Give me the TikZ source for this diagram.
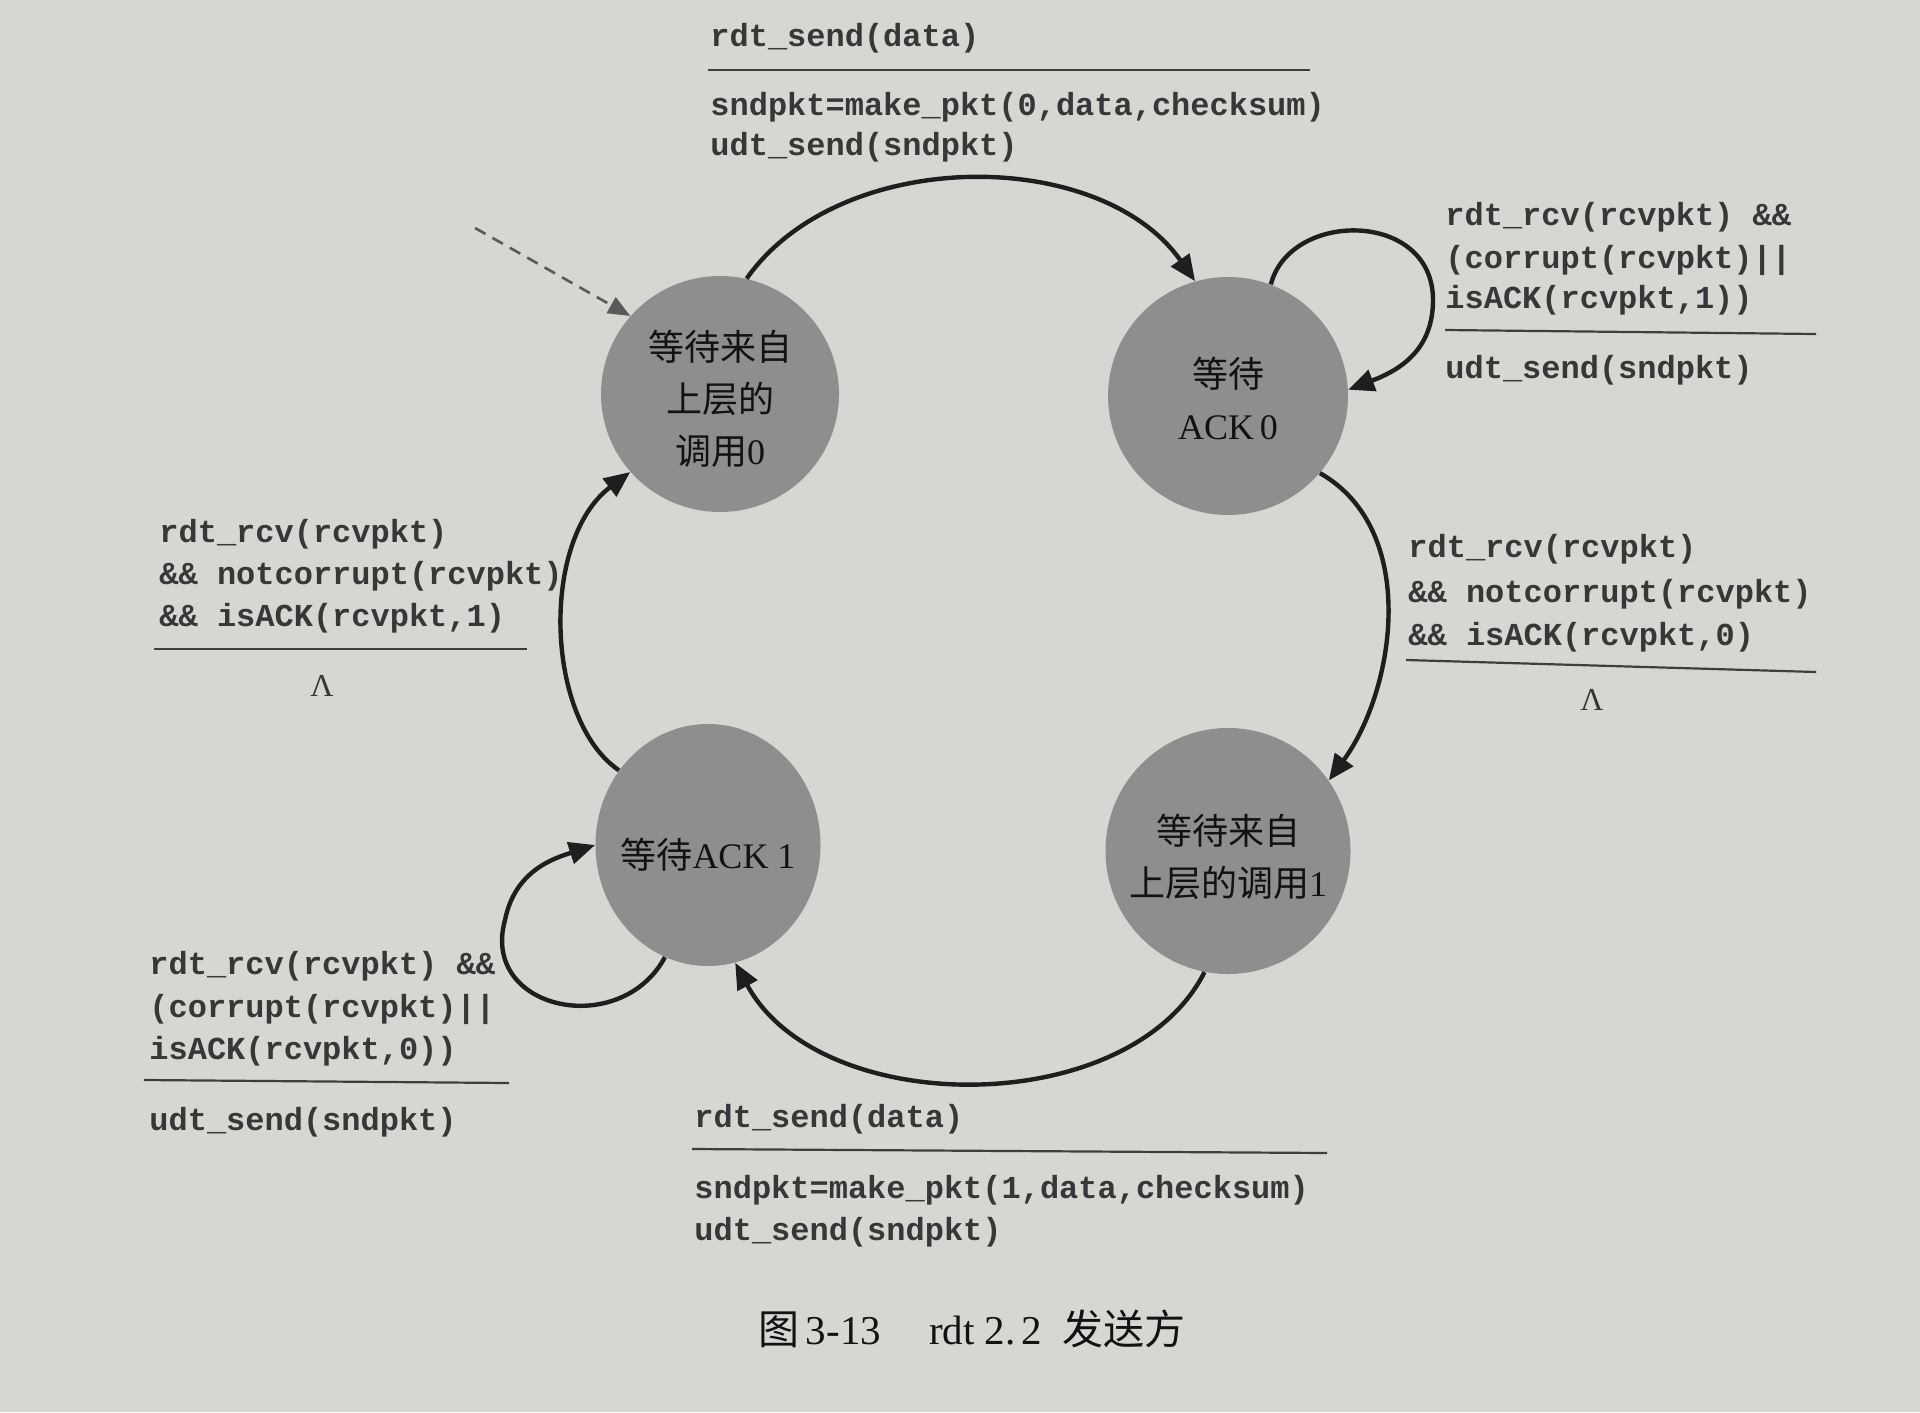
\documentclass[tikz,border=0pt]{standalone}
\usepackage{fontspec}
\setmainfont{Liberation Serif}
\setmonofont{Liberation Mono}
\newfontfamily\cjk{Noto Sans CJK SC}
\usetikzlibrary{arrows.meta,shapes.geometric}
\definecolor{bg}{RGB}{214,214,210}
\definecolor{stategray}{RGB}{142,142,142}
\definecolor{ink}{RGB}{18,18,18}
\definecolor{mono}{RGB}{55,55,55}
\definecolor{rulecol}{RGB}{62,62,62}
\definecolor{linecol}{RGB}{30,30,30}
\begin{document}
\begin{tikzpicture}[x=0.5pt,y=0.5pt,
  state/.style={ellipse, fill=stategray, draw=none, inner sep=0pt},
  stxt/.style={inner sep=0pt, align=center, text=ink, font=\fontsize{18}{26}\selectfont},
  lbl/.style={anchor=west, inner sep=0pt, text=mono, text height=12pt, text depth=4pt,
    font=\ttfamily\bfseries\fontsize{16}{20}\selectfont},
  lam/.style={inner sep=0pt, text=mono, font=\fontsize{16}{20}\selectfont},
  rulestyle/.style={draw=rulecol, line width=1.1pt},
  conn/.style={draw=linecol, line width=2.2pt, -{Triangle[length=13pt,width=11pt]}},
  initarrow/.style={draw=black!65, line width=1.3pt, dash pattern=on 6pt off 4pt,
    -{Triangle[length=11pt,width=9pt]}}
]
\useasboundingbox (0,0) rectangle (1920,-1412);
\fill[bg] (0,0) rectangle (1920,-1412);

% states
\node[state, minimum width=119pt, minimum height=118pt] (s0) at (720,-394) {};
\node[state, minimum width=120pt, minimum height=119pt] (s1) at (1228,-396) {};
\node[state, minimum width=122.5pt, minimum height=123pt] (s2) at (1228,-851) {};
\node[state, minimum width=112.5pt, minimum height=121pt] (s3) at (708,-845) {};

\node[stxt] (s0t) at (720,-399) {{\cjk 等待来自}\\{\cjk 上层的}\\{\cjk 调用}0};
\node[stxt] (s1t) at (1228,-398) {{\cjk 等待}\\ACK\,0};
\node[stxt] (s2t) at (1228,-857) {{\cjk 等待来自}\\{\cjk 上层的调用}1};
\node[stxt] (s3t) at (708,-855) {{\cjk 等待}ACK 1};

% connectors
\coordinate (init) at (475,-228);
\draw[initarrow] (init) -- (s0.139);
\draw[conn] (s0.77) .. controls (840,-146) and (1100,-146) .. (s1.106);
\draw[conn] (s1.69) .. controls (1290,-210) and (1433,-210) .. (1433,-300)
  .. controls (1433,-350) and (1400,-370) .. (s1.3);
\draw[conn] (s1.-40) .. controls (1420,-530) and (1395,-690) .. (s2.35);
\draw[conn] (s2.-101) .. controls (1130,-1120) and (820,-1120) .. (s3.-77);
\draw[conn] (s3.-111) .. controls (620,-1040) and (480,-1010) .. (505,-920)
  .. controls (515,-870) and (555,-858) .. (s3.180);
\draw[conn] (s3.140) .. controls (545,-720) and (540,-540) .. (s0.-139);

% top label
\node[lbl] (t1a) at (710,-39) {rdt\_send(data)};
\draw[rulestyle] (708,-70) -- (1310,-70);
\node[lbl] (t1b) at (710,-108) {sndpkt=make\_pkt(0,data,checksum)};
\node[lbl] (t1c) at (710,-148) {udt\_send(sndpkt)};

% top-right label
\node[lbl] (t2a) at (1445,-218) {rdt\_rcv(rcvpkt) \&\&};
\node[lbl] (t2b) at (1445,-260) {(corrupt(rcvpkt)||};
\node[lbl] (t2c) at (1445,-300) {isACK(rcvpkt,1))};
\draw[rulestyle] (1445,-330) -- (1816,-334);
\node[lbl] (t2d) at (1445,-370) {udt\_send(sndpkt)};

% right label
\node[lbl] (t3a) at (1408,-549) {rdt\_rcv(rcvpkt)};
\node[lbl] (t3b) at (1408,-594) {\&\& notcorrupt(rcvpkt)};
\node[lbl] (t3c) at (1408,-637) {\&\& isACK(rcvpkt,0)};
\draw[rulestyle] (1406,-660) -- (1816,-672);
\node[lam] (t3d) at (1592,-700) {Λ};

% left label
\node[lbl] (t4a) at (159,-534) {rdt\_rcv(rcvpkt)};
\node[lbl] (t4b) at (159,-576) {\&\& notcorrupt(rcvpkt)};
\node[lbl] (t4c) at (159,-618) {\&\& isACK(rcvpkt,1)};
\draw[rulestyle] (154,-649) -- (527,-649);
\node[lam] (t4d) at (322,-686) {Λ};

% bottom-left label
\node[lbl] (t5a) at (149,-966) {rdt\_rcv(rcvpkt) \&\&};
\node[lbl] (t5b) at (149,-1009) {(corrupt(rcvpkt)||};
\node[lbl] (t5c) at (149,-1051) {isACK(rcvpkt,0))};
\draw[rulestyle] (144,-1080) -- (509,-1083);
\node[lbl] (t5d) at (149,-1122) {udt\_send(sndpkt)};

% bottom label
\node[lbl] (t6a) at (694,-1119) {rdt\_send(data)};
\draw[rulestyle] (692,-1149) -- (1327,-1153);
\node[lbl] (t6b) at (694,-1190) {sndpkt=make\_pkt(1,data,checksum)};
\node[lbl] (t6c) at (694,-1232) {udt\_send(sndpkt)};

% caption
\node[inner sep=0pt, text=ink, font=\fontsize{20.5}{24}\selectfont] (cap) at (972,-1329)
  {{\cjk 图}\hspace{3pt}3-13\hspace{24pt}rdt 2.\hspace{3pt}2\hspace{10pt}{\cjk 发送方}};
\end{tikzpicture}
\end{document}
